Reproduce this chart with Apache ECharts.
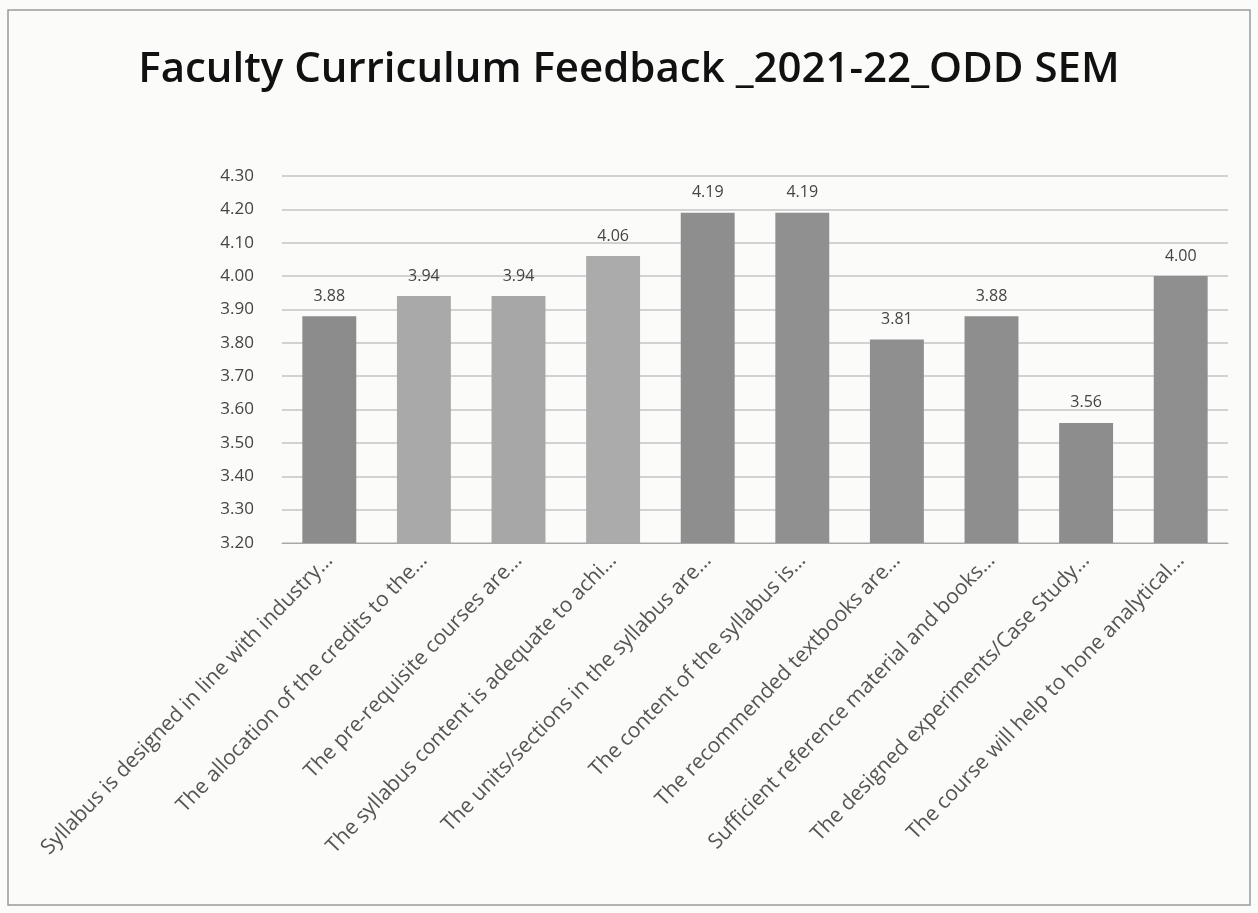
<!DOCTYPE html>
<html>
<head>
<meta charset="utf-8">
<script src="https://cdn.jsdelivr.net/npm/echarts@6/dist/echarts.min.js"></script>
<style>
  html, body { margin: 0; padding: 0; background: #fbfbfa; }
  #chart { width: 1258px; height: 913px; }
</style>
</head>
<body>
<div id="chart"></div>
<script>
const categories = [
  'Syllabus is designed in line with industry…',
  'The allocation of the credits to the…',
  'The pre-requisite courses are…',
  'The syllabus content is adequate to achi…',
  'The units/sections in the syllabus are…',
  'The content of the syllabus is…',
  'The recommended textbooks are…',
  'Sufficient reference material and books…',
  'The designed experiments/Case Study…',
  'The course will help to hone analytical…'
]
const scores = [3.88, 3.94, 3.94, 4.06, 4.19, 4.19, 3.81, 3.88, 3.56, 4.00]
const barColors = ['#8c8c8c', '#a9a9a9', '#a7a7a7', '#ababab', '#8e8e8e',
  '#909090', '#8f8f8f', '#8e8e8e', '#8d8d8d', '#8f8f8f']

const chart = echarts.init(document.getElementById('chart'))

const option = {
  backgroundColor: '#fbfbfa',
  animation: false,
  title: {
    text: 'Faculty Curriculum Feedback _2021-22_ODD SEM',
    left: 'center',
    top: 44,
    textStyle: {
      fontFamily: 'Open Sans',
      fontWeight: 600,
      fontSize: 42,
      color: '#111'
    }
  },
  graphic: [
    {
      type: 'rect',
      shape: { x: 8, y: 10, width: 1242, height: 895 },
      style: { fill: 'none', stroke: '#9a9a9a', lineWidth: 1.5 },
      silent: true
    }
  ],
  grid: {
    left: 282,
    right: 30,
    top: 176,
    bottom: 370
  },
  xAxis: {
    type: 'category',
    data: categories,
    axisTick: { show: false },
    axisLine: { lineStyle: { color: '#a8a8a8' } },
    axisLabel: {
      interval: 0,
      rotate: 46,
      margin: 14,
      fontFamily: 'Open Sans',
      fontSize: 21,
      color: '#555'
    }
  },
  yAxis: {
    type: 'value',
    min: 3.2,
    max: 4.3,
    interval: 0.1,
    axisLine: { show: false },
    axisTick: { show: false },
    splitLine: { lineStyle: { color: '#c4c4c4', width: 1.5 } },
    axisLabel: {
      margin: 28,
      fontFamily: 'Open Sans',
      fontSize: 17,
      color: '#444',
      formatter: (v) => v.toFixed(2)
    }
  },
  series: [
    {
      type: 'bar',
      barWidth: '57%',
      data: scores.map((v, i) => ({ value: v, itemStyle: { color: barColors[i] } })),
      label: {
        show: true,
        position: 'top',
        distance: 12,
        fontFamily: 'Open Sans',
        fontSize: 16,
        color: '#444',
        formatter: (p) => p.value.toFixed(2)
      }
    }
  ]
}

chart.setOption(option)
</script>
</body>
</html>
